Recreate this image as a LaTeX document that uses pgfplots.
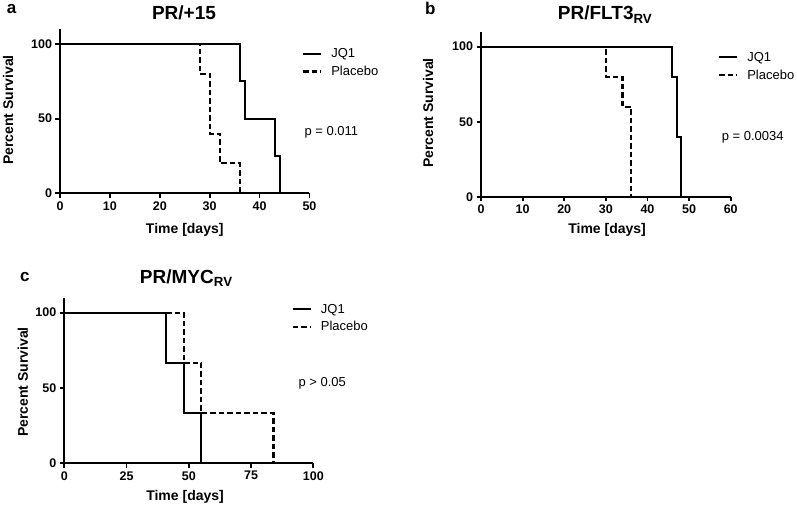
\documentclass[border=0pt]{standalone}
\usepackage{pgfplots}
\pgfplotsset{compat=1.18}
\usepackage{fontspec}
\setmainfont{Liberation Sans}

\newcommand{\fs}[1]{\fontsize{#1}{#1}\selectfont}

\pgfplotsset{
  km/.style={
    scale only axis,
    xmin=0, ymin=0, ymax=110,
    axis x line*=bottom, axis y line*=left,
    axis line style={line width=2pt},
    ytick={0,50,100},
    tick align=outside,
    major tick length=4.5pt,
    tick style={line width=1.8pt, black},
    /pgf/number format/assume math mode=true,
    tick label style={font=\bfseries\fs{12.5}},
    label style={font=\bfseries\fs{14}},
    ylabel={Percent Survival},
    xlabel={Time [days]},
    clip=false,
    legend cell align=left,
    legend image code/.code={\draw[##1] (0pt,0pt) -- (18pt,0pt);},
    legend style={draw=none, fill=none, font=\fs{13}, anchor=north west,
      inner xsep=0pt, inner ysep=0pt, row sep=3pt,
      /tikz/every odd column/.append style={column sep=7pt}},
  },
  jq/.style={black, line width=2.1pt, const plot},
  pl/.style={black, line width=2.1pt, const plot, dash pattern=on 5.5pt off 3pt},
}

\begin{document}
\begin{tikzpicture}[x=1pt,y=1pt]
\useasboundingbox (0,0) rectangle (797,509);

% panel a
\begin{axis}[km,
    at={(60pt,315.7pt)}, anchor=south west,
    width=249.5pt, height=164.3pt,
    xmax=50, xtick={0,10,20,30,40,50},
    ylabel style={at={(axis description cs:-0.208,0.507)}, anchor=center},
    xlabel style={at={(axis description cs:0.5,-0.223)}, anchor=center},
    legend style={at={(axis description cs:0.970,0.895)}},
]
\addplot[jq] coordinates {(0,100)(36,75)(37,50)(43,25)(44,0)};
\addplot[pl] coordinates {(0,100)(28,80)(30,40)(32,20)(36,0)};
\legend{JQ1, Placebo}
\node[anchor=base, font=\bfseries\fs{19}] at (axis description cs:0.497,1.059) {PR/+15};
\node[anchor=west, font=\fs{13}] at (axis cs:48.3,41) {p = 0.011};
\end{axis}

% panel b
\begin{axis}[km,
    at={(481pt,312.3pt)}, anchor=south west,
    width=249.7pt, height=165pt,
    xmax=60, xtick={0,10,20,30,40,50,60},
    ylabel style={at={(axis description cs:-0.212,0.507)}, anchor=center},
    xlabel style={at={(axis description cs:0.505,-0.202)}, anchor=center},
    legend style={at={(axis description cs:0.949,0.89)}},
]
\addplot[jq] coordinates {(0,100)(46,80)(47,40)(48,0)};
\addplot[pl] coordinates {(0,100)(30,80)(34,60)(36,0)};
\legend{JQ1, Placebo}
\node[anchor=base, font=\bfseries\fs{19}] at (axis description cs:0.497,1.071) {PR/FLT3\textsubscript{RV}};
\node[anchor=west, font=\fs{13}] at (axis cs:57.0,39.8) {p = 0.0034};
\end{axis}

% panel c
\begin{axis}[km,
    at={(64.3pt,45.7pt)}, anchor=south west,
    width=249pt, height=165.7pt,
    xmax=100, xtick={0,25,50,75,100},
    ylabel style={at={(axis description cs:-0.166,0.49)}, anchor=center},
    xlabel style={at={(axis description cs:0.485,-0.203)}, anchor=center},
    legend style={at={(axis description cs:0.913,0.975)}},
]
\addplot[jq] coordinates {(0,100)(41,66.67)(48,33.33)(55,0)};
\addplot[pl] coordinates {(0,100)(48,66.67)(55,33.33)(84,0)};
\legend{JQ1, Placebo}
\node[anchor=base, font=\bfseries\fs{19}] at (axis description cs:0.49,1.086) {PR/MYC\textsubscript{RV}};
\node[anchor=west, font=\fs{13}] at (axis cs:92.65,53) {p > 0.05};
\end{axis}

% panel letters
\node[anchor=base west, font=\bfseries\fs{17}] at (3.3,495) {a};
\node[anchor=base west, font=\bfseries\fs{17}] at (421.7,494) {b};
\node[anchor=base west, font=\bfseries\fs{17}] at (16.7,227.3) {c};
\end{tikzpicture}
\end{document}
